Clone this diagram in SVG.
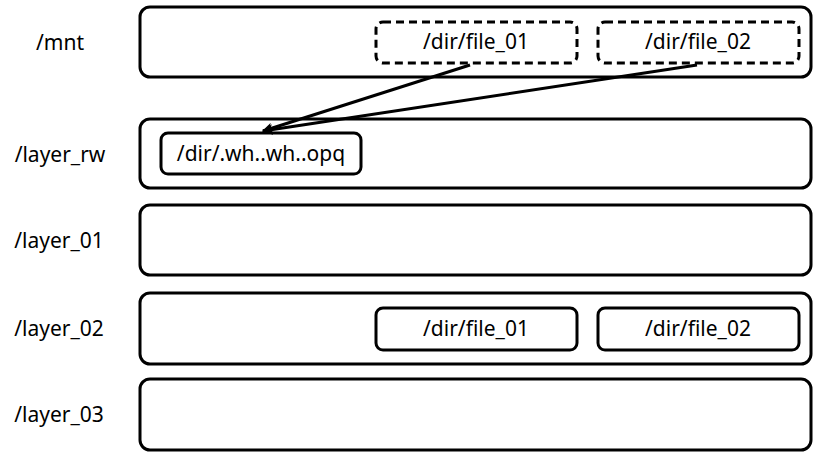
<svg xmlns="http://www.w3.org/2000/svg" width="823" height="461" viewBox="0 0 823 461">
<defs>
<style>
.layer{fill:#fff;stroke:#000;stroke-width:3}
.file{fill:#fff;stroke:#000;stroke-width:3}
.dash{fill:#fff;stroke:#000;stroke-width:3;stroke-dasharray:8 5}
text{font-family:"Noto Sans","DejaVu Sans",sans-serif;font-size:21px;fill:#000}
.c{text-anchor:middle;dominant-baseline:central}
.conn{stroke:#000;stroke-width:3;fill:none}
</style>
<marker id="arr" viewBox="0 0 10 10" refX="9" refY="5" markerWidth="3.6" markerHeight="3.6" orient="auto" markerUnits="strokeWidth">
<path d="M0,0 L10,5 L0,10 L2.5,5 z" fill="#000"/>
</marker>
</defs>
<g id="labels">
<text class="c" x="60" y="42">/mnt</text>
<text class="c" x="60" y="154">/layer_rw</text>
<text class="c" x="59" y="240">/layer_01</text>
<text class="c" x="59" y="328">/layer_02</text>
<text class="c" x="59" y="414">/layer_03</text>
</g>
<g id="mnt"><rect class="layer" x="140" y="7" width="671" height="70" rx="10"/></g>
<g id="layer_rw"><rect class="layer" x="140" y="119" width="671" height="69" rx="10"/></g>
<g id="layer_01"><rect class="layer" x="140" y="205" width="671" height="70" rx="10"/></g>
<g id="layer_02"><rect class="layer" x="140" y="293" width="671" height="71" rx="10"/></g>
<g id="layer_03"><rect class="layer" x="140" y="379" width="671" height="71" rx="10"/></g>
<g id="mnt_file_01"><rect class="dash" x="376" y="22" width="201" height="41" rx="7"/><text class="c" x="476" y="41">/dir/file_01</text></g>
<g id="mnt_file_02"><rect class="dash" x="598" y="22" width="201" height="41" rx="7"/><text class="c" x="698" y="41">/dir/file_02</text></g>
<g id="opq"><rect class="file" x="161" y="133" width="200" height="41" rx="7"/><text class="c" x="261" y="153">/dir/.wh..wh..opq</text></g>
<g id="l2_file_01"><rect class="file" x="376" y="308" width="201" height="42" rx="7"/><text class="c" x="476" y="328">/dir/file_01</text></g>
<g id="l2_file_02"><rect class="file" x="598" y="308" width="201" height="42" rx="7"/><text class="c" x="698" y="328">/dir/file_02</text></g>
<g id="connectors">
<line class="conn" x1="470" y1="65" x2="263" y2="131" marker-end="url(#arr)"/>
<line class="conn" x1="697" y1="65" x2="263" y2="131" marker-end="url(#arr)"/>
</g>
</svg>
